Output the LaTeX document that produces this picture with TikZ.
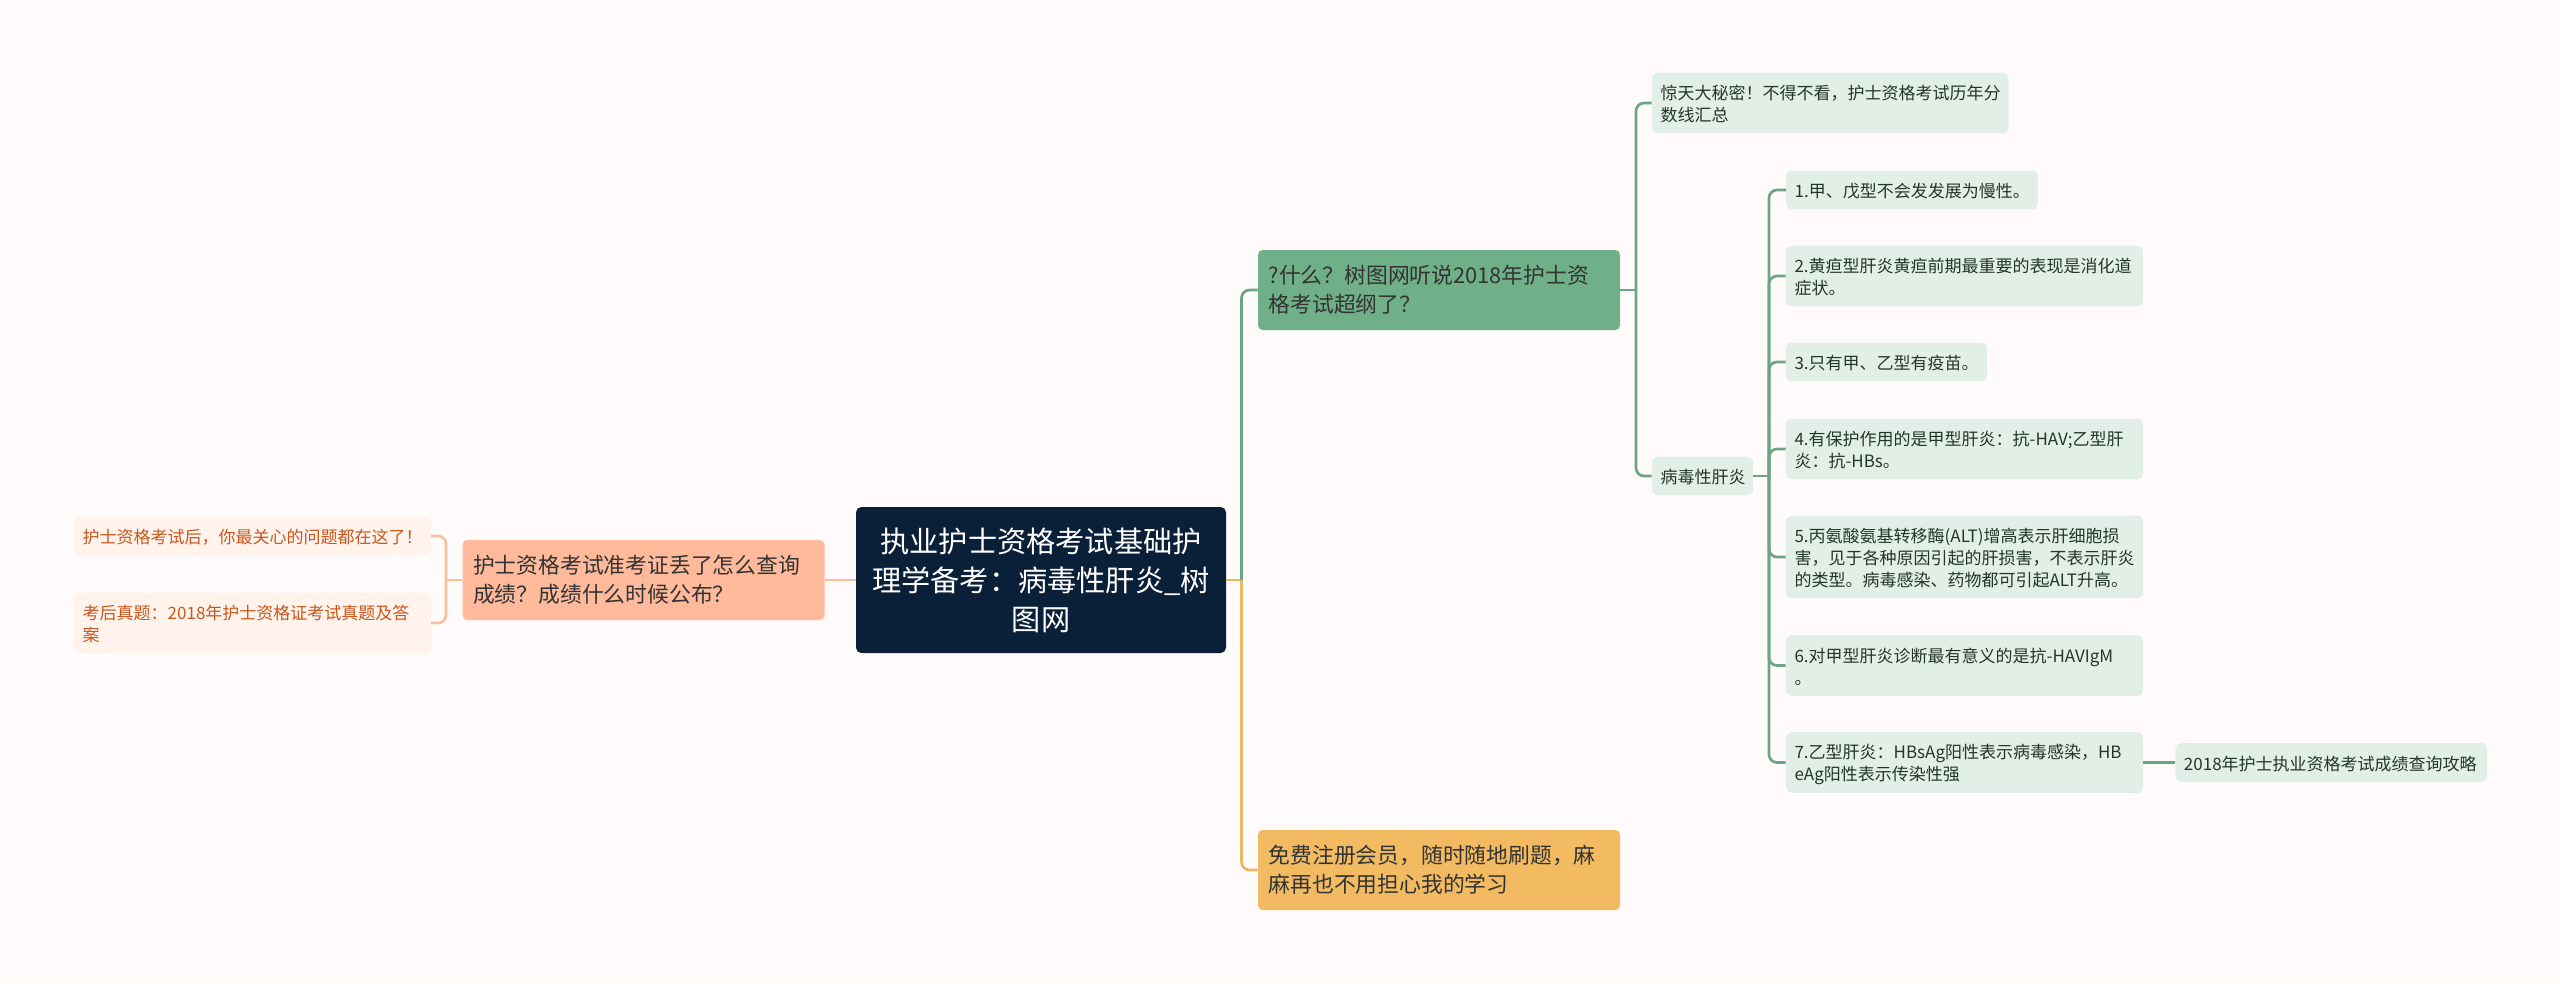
\documentclass[tikz,border=0pt]{standalone}
\usepackage{fontspec}
\setmainfont{Noto Sans CJK SC}
\definecolor{bgc}{HTML}{FFFBFA}
\definecolor{rootc}{HTML}{0A1F38}
\definecolor{greenc}{HTML}{70B088}
\definecolor{greenl}{HTML}{6BA583}
\definecolor{leafg}{HTML}{E2EFE7}
\definecolor{txtg}{HTML}{24352B}
\definecolor{peach}{HTML}{FFBA9B}
\definecolor{peachl}{HTML}{F8BFA2}
\definecolor{leafp}{HTML}{FFF3EC}
\definecolor{txtp}{HTML}{C8571F}
\definecolor{gold}{HTML}{F2BB62}
\definecolor{goldl}{HTML}{EDB660}
\tikzset{
  x=0.75pt,y=0.75pt,
  mapbox/.style={rectangle,inner ysep=0pt,anchor=center},
  rootbox/.style={mapbox,fill=rootc,text=white,rounded corners=4pt,align=center,
    inner xsep=7.5pt,text width=262.5pt,minimum height=109.5pt,
    font=\fontsize{21.9pt}{29.25pt}\selectfont},
  mainbox/.style={mapbox,rounded corners=3.5pt,align=left,text=black!80,
    inner xsep=8pt,text width=255.5pt,minimum height=60pt,
    font=\fontsize{16.35pt}{21.75pt}\selectfont},
  leafbox/.style={mapbox,fill=leafg,text=txtg,rounded corners=4.5pt,align=left,
    inner xsep=6.4pt,minimum height=29pt,
    font=\fontsize{12.75pt}{16.5pt}\selectfont,
    execute at begin node={\rule{0pt}{1.1em}},
    execute at end node={\rule[-0.2em]{0pt}{0pt}}},
  peachbox/.style={leafbox,fill=leafp,text=txtp},
  gline/.style={draw=greenl,line width=2pt,rounded corners=6pt},
  pline/.style={draw=peachl,line width=2pt,rounded corners=6pt},
  yline/.style={draw=goldl,line width=2pt,rounded corners=6pt},
}
\begin{document}
\begin{tikzpicture}
\useasboundingbox (0,0) rectangle (2560,-983);
\fill[bgc] (0,0) rectangle (2560,-983);

\coordinate (tc) at (1241.5,-580);
\coordinate (tl) at (446,-580);
\coordinate (tg) at (1636,-289);
\coordinate (tv) at (1769,-476);

% nodes: width = text width + 2*inner xsep
\node[rootbox] (root) at (1041,-580) {执业护士资格考试基础护\\理学备考：病毒性肝炎\_树\\图网};
\node[mainbox,fill=greenc] (green) at (1439,-290) {?什么？树图网听说2018年护士资\\格考试超纲了？};
\node[mainbox,fill=gold] (gold) at (1439,-870) {免费注册会员，随时随地刷题，麻\\麻再也不用担心我的学习};
\node[mainbox,fill=peach] (peach) at (643.5,-580) {护士资格考试准考证丢了怎么查询\\成绩？成绩什么时候公布？};

\node[peachbox,text width=254.7pt,minimum height=29pt] (p1) at (252.5,-536) {护士资格考试后，你最关心的问题都在这了！};
\node[peachbox,text width=254.7pt,minimum height=45.5pt] (p2) at (252.5,-623) {考后真题：2018年护士资格证考试真题及答\\案};

\node[leafbox,text width=254.7pt,minimum height=45.5pt] (a) at (1830.3,-103) {惊天大秘密！不得不看，护士资格考试历年分\\数线汇总};
\node[leafbox,text width=63pt] (v) at (1702.5,-476) {病毒性肝炎};

\node[leafbox,text width=176pt] (l1) at (1912,-190) {1.甲、戊型不会发发展为慢性。};
\node[leafbox,text width=255pt,minimum height=45.5pt] (l2) at (1964.5,-276) {2.黄疸型肝炎黄疸前期最重要的表现是消化道\\症状。};
\node[leafbox,text width=138pt] (l3) at (1886.5,-362) {3.只有甲、乙型有疫苗。};
\node[leafbox,text width=255pt,minimum height=45.5pt] (l4) at (1964.5,-449) {4.有保护作用的是甲型肝炎：抗-HAV;乙型肝\\炎：抗-HBs。};
\node[leafbox,text width=255pt,minimum height=62pt] (l5) at (1964.5,-557) {5.丙氨酸氨基转移酶(ALT)增高表示肝细胞损\\害，见于各种原因引起的肝损害，不表示肝炎\\的类型。病毒感染、药物都可引起ALT升高。};
\node[leafbox,text width=255pt,minimum height=45.5pt] (l6) at (1964.5,-665.5) {6.对甲型肝炎诊断最有意义的是抗-HAVIgM\\。};
\node[leafbox,text width=255pt,minimum height=45.5pt] (l7) at (1964.5,-762.5) {7.乙型肝炎：HBsAg阳性表示病毒感染，HB\\eAg阳性表示传染性强};
\node[leafbox,text width=221pt] (l8) at (2331.3,-762.5) {2018年护士执业资格考试成绩查询攻略};

% connectors
\draw[pline] (root.west) -- (peach.east);
\draw[pline] (peach.west) -- (tl);
\draw[pline] (tl) |- (p1.east);
\draw[pline] (tl) |- (p2.east);
\draw[yline] (root.east) -- (tc);
\draw[yline] (tc) |- (gold.west);
\draw[gline] (tc) |- (green.west);
\draw[gline] (green.east) -- (tg |- green.east);
\draw[gline] (tg |- green.east) |- (a.west);
\draw[gline] (tg |- green.east) |- (v.west);
\draw[gline] (v.east) -- (tv);
\draw[gline] (tv) |- (l1.west);
\draw[gline] (tv) |- (l2.west);
\draw[gline] (tv) |- (l3.west);
\draw[gline] (tv) |- (l4.west);
\draw[gline] (tv) |- (l5.west);
\draw[gline] (tv) |- (l6.west);
\draw[gline] (tv) |- (l7.west);
\draw[gline] (l7.east) -- (l8.west);
\end{tikzpicture}
\end{document}
